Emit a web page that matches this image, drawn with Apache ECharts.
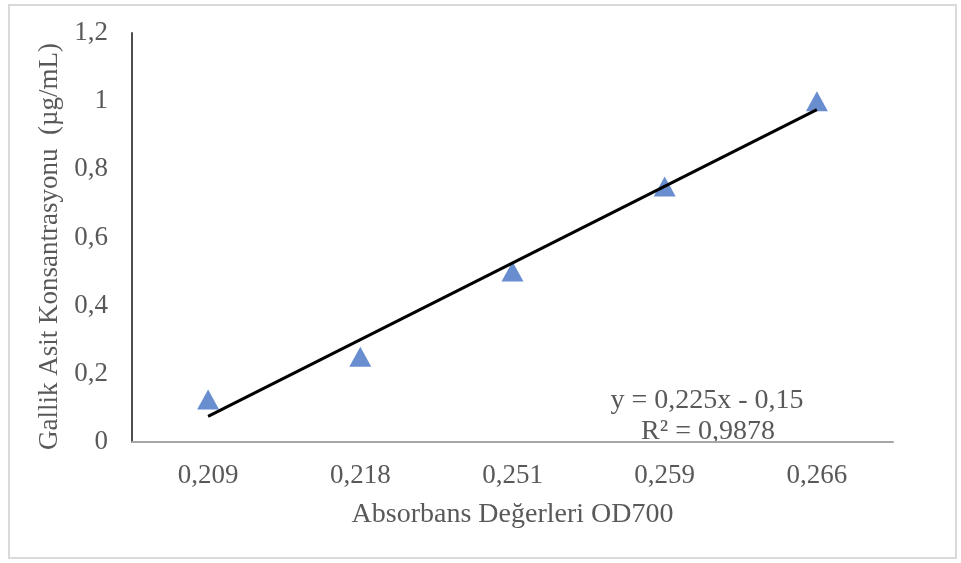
<!DOCTYPE html>
<html>
<head>
<meta charset="utf-8">
<script src="https://cdn.jsdelivr.net/npm/echarts@6/dist/echarts.min.js"></script>
<style>
  html, body { margin: 0; padding: 0; background: #fff; }
  #chart { width: 961px; height: 563px; }
</style>
</head>
<body>
<div id="chart"></div>
<script>
// Absorbance readings (OD700) used as categories
const absorbance = ['0,209', '0,218', '0,251', '0,259', '0,266'];
// Gallic acid concentration (µg/mL)
const concentration = [0.125, 0.25, 0.5, 0.75, 1];
// Linear trend: y = 0,225x - 0,15 (x = position 1..5)
const trendSlope = 0.225;
const trendIntercept = -0.15;
const trendText = ['y = 0,225x - 0,15', 'R² = 0,9878'];

const fmt = v => String(v).replace('.', ',');
const trendData = [1, absorbance.length].map(i => [absorbance[i - 1], +(trendSlope * i + trendIntercept).toFixed(4)]);

const font = '"Liberation Serif", "Times New Roman", serif';
const textColor = '#595959';

const chart = echarts.init(document.getElementById('chart'));
chart.setOption({
  animation: false,
  backgroundColor: '#fff',
  grid: { left: 132, right: 68, top: 33, bottom: 121 },
  xAxis: {
    type: 'category',
    data: absorbance,
    boundaryGap: true,
    axisLine: { lineStyle: { color: '#a6a6a6', width: 2 } },
    axisTick: { show: false },
    axisLabel: { color: textColor, fontFamily: font, fontSize: 27, margin: 20 },
    name: 'Absorbans Değerleri OD700',
    nameLocation: 'middle',
    nameGap: 59,
    nameTextStyle: { color: textColor, fontFamily: font, fontSize: 28 }
  },
  yAxis: {
    type: 'value',
    min: 0, max: 1.2, interval: 0.2,
    axisLine: { show: true, lineStyle: { color: '#4d4d4d', width: 2 } },
    axisTick: { show: false },
    splitLine: { show: false },
    axisLabel: { color: textColor, fontFamily: font, fontSize: 27, margin: 24, formatter: v => fmt(+v.toFixed(1)) },
    name: 'Gallik Asit Konsantrasyonu  (µg/mL)',
    nameLocation: 'middle',
    nameGap: 68,
    nameTextStyle: { color: textColor, fontFamily: font, fontSize: 27, padding: [0, 18, 0, 0] }
  },
  series: [
    {
      type: 'line',
      data: trendData,
      symbol: 'none',
      lineStyle: { color: '#000', width: 3 },
      z: 3
    },
    {
      type: 'scatter',
      data: concentration,
      symbol: 'triangle',
      symbolSize: [22, 20],
      itemStyle: { color: '#4472c4' },
      z: 2
    }
  ],
  graphic: [
    {
      type: 'rect',
      shape: { x: 9, y: 5, width: 947, height: 553 },
      style: { fill: 'none', stroke: '#d9d9d9', lineWidth: 2 },
      silent: true
    },
    {
      type: 'text',
      x: 707, y: 401,
      style: { text: trendText[0], fill: textColor, font: '28px ' + font, align: 'center', verticalAlign: 'middle' }
    },
    {
      type: 'text',
      x: 708, y: 432,
      style: { text: trendText[1], fill: textColor, font: '28px ' + font, align: 'center', verticalAlign: 'middle' }
    }
  ]
});
</script>
</body>
</html>
